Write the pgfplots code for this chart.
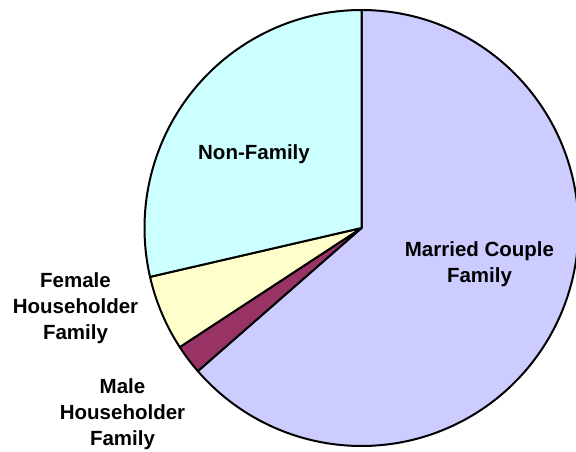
\documentclass[border=0pt]{standalone}
\usepackage{pgfplots}
\pgfplotsset{compat=1.18}
\usepackage{fontspec}
\setmainfont{Liberation Sans}
\definecolor{cMarried}{HTML}{CCCCFF}
\definecolor{cMale}{HTML}{993366}
\definecolor{cFemale}{HTML}{FFFFCC}
\definecolor{cNon}{HTML}{CCFFFF}
% shares in percent
\newcommand{\vMarried}{63.6}
\newcommand{\vMale}{2.2}
\newcommand{\vFemale}{5.6}
\newcommand{\vNon}{28.6}
\begin{document}
\begin{tikzpicture}
\pgfmathsetmacro{\aA}{90}
\pgfmathsetmacro{\aB}{\aA-3.6*\vMarried}
\pgfmathsetmacro{\aC}{\aB-3.6*\vMale}
\pgfmathsetmacro{\aD}{\aC-3.6*\vFemale}
\pgfmathsetmacro{\aE}{\aD-3.6*\vNon}
\def\cx{361.5}\def\cy{224}\def\rx{217}\def\ry{218}
\begin{axis}[scale only axis, width=576pt, height=452pt,
  xmin=0, xmax=576, ymin=0, ymax=452, hide axis, clip=true]
\addplot[fill=cMarried, draw=black, line width=2pt, line join=round, domain=\aB:\aA, samples=200, variable=\t]
  ({\cx+\rx*cos(\t)},{\cy+\ry*sin(\t)}) -- (\cx,\cy) -- cycle;
\addplot[fill=cMale, draw=black, line width=2pt, line join=round, domain=\aC:\aB, samples=20, variable=\t]
  ({\cx+\rx*cos(\t)},{\cy+\ry*sin(\t)}) -- (\cx,\cy) -- cycle;
\addplot[fill=cFemale, draw=black, line width=2pt, line join=round, domain=\aD:\aC, samples=30, variable=\t]
  ({\cx+\rx*cos(\t)},{\cy+\ry*sin(\t)}) -- (\cx,\cy) -- cycle;
\addplot[fill=cNon, draw=black, line width=2pt, line join=round, domain=\aE:\aD, samples=120, variable=\t]
  ({\cx+\rx*cos(\t)},{\cy+\ry*sin(\t)}) -- (\cx,\cy) -- cycle;
\tikzset{lbl/.style={anchor=base, font=\bfseries\fontsize{20.5}{25}\selectfont, inner sep=0pt}}
\node[lbl] at (axis cs:479.5,195) {Married Couple};
\node[lbl] at (axis cs:479.5,169) {Family};
\node[lbl] at (axis cs:254,292) {Non-Family};
\node[lbl] at (axis cs:75.5,164) {Female};
\node[lbl] at (axis cs:75.5,138) {Householder};
\node[lbl] at (axis cs:75.5,112) {Family};
\node[lbl] at (axis cs:122.5,58) {Male};
\node[lbl] at (axis cs:122.5,32) {Householder};
\node[lbl] at (axis cs:122.5,6) {Family};
\coordinate (sw) at (axis cs:0,0);
\coordinate (ne) at (axis cs:576,452);
\end{axis}
\pgfresetboundingbox
\useasboundingbox (sw) rectangle (ne);
\end{tikzpicture}
\end{document}
